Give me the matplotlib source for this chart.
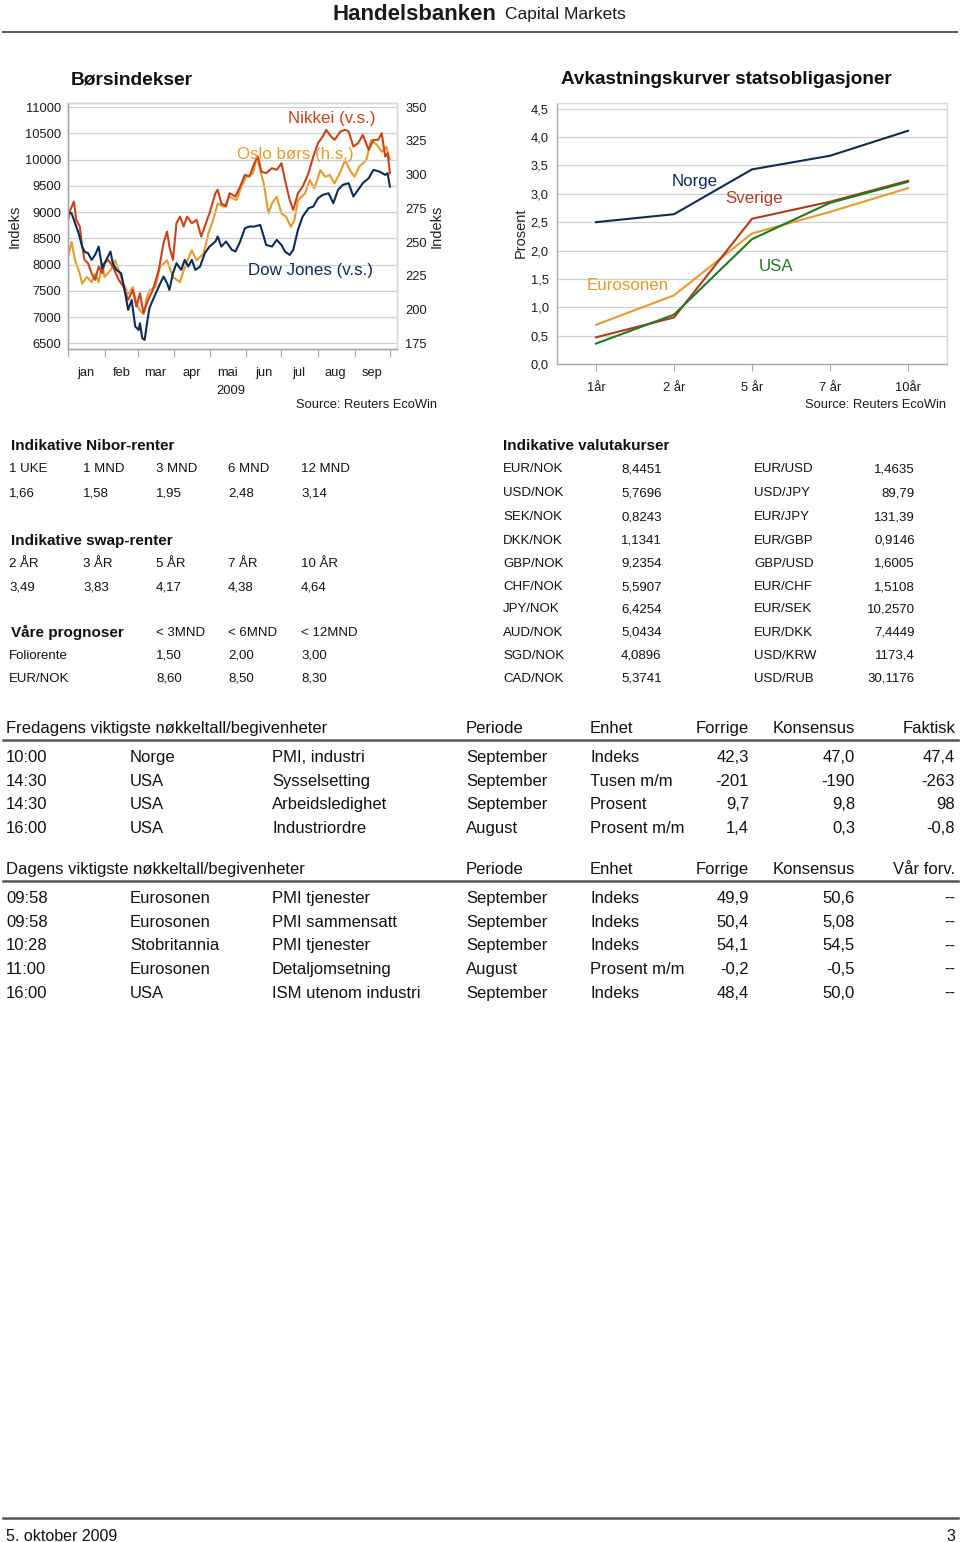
import matplotlib
matplotlib.use('Agg')
import matplotlib.pyplot as plt
from matplotlib.lines import Line2D
import pandas as pd

# ---- data: stock indices 2009 (day offset from 1 Jan, value) ----
dow_days = [0, 3, 6, 9, 12, 14, 17, 20, 23, 26, 29, 31, 36, 38, 41, 45, 48, 51, 54, 57,
            60, 61, 63, 65, 67, 69, 72, 77, 81, 84, 86, 89, 92, 96, 99, 102, 105, 108, 112, 116,
            120, 125, 127, 130, 134, 139, 142, 146, 150, 154, 158, 163, 166, 168, 173, 177, 181, 184, 188, 191,
            195, 199, 204, 208, 212, 216, 221, 225, 229, 233, 238, 242, 246, 250, 255, 259, 264, 269, 271, 273]
dow_vals = [8992, 8979, 8788, 8597, 8343, 8248, 8216, 8089, 8184, 8343,
            7930, 8025, 8248, 8025, 7898, 7835, 7517, 7136, 7326, 6818,
            6754, 6881, 6595, 6564, 6881, 7167, 7326, 7580, 7771, 7644,
            7517, 7835, 8025, 7898, 8089, 7962, 8089, 7898, 7962, 8216,
            8343, 8439, 8534, 8343, 8439, 8280, 8248, 8439, 8693, 8725,
            8725, 8756, 8534, 8375, 8343, 8470, 8375, 8248, 8184, 8280,
            8661, 8915, 9074, 9106, 9265, 9328, 9360, 9169, 9424, 9519,
            9551, 9297, 9424, 9551, 9646, 9805, 9773, 9710, 9742, 9487]

nikkei_days = [0, 2, 5, 7, 10, 12, 14, 17, 20, 23, 26, 29, 31, 34, 38, 43, 47, 51, 55, 58,
               61, 64, 68, 72, 77, 81, 84, 86, 89, 92, 95, 98, 101, 105, 109, 113, 118, 120, 125, 127,
               130, 134, 137, 142, 146, 150, 154, 158, 161, 164, 168, 173, 177, 181, 184, 188, 191, 195, 199, 204,
               208, 212, 216, 219, 223, 226, 231, 235, 238, 242, 246, 250, 255, 259, 263, 266, 269, 271, 273]
nikkei_vals = [8852, 9042, 9201, 8852, 8725, 8343, 8089, 8025, 7835, 7708,
               7962, 7835, 8025, 8089, 7962, 7708, 7580, 7326, 7517, 7199,
               7453, 7072, 7326, 7517, 7898, 8407, 8629, 8343, 8089, 8788,
               8915, 8725, 8915, 8788, 8852, 8534, 8852, 8979, 9360, 9424,
               9169, 9106, 9360, 9297, 9487, 9710, 9678, 9932, 10059, 9773,
               9742, 9837, 9805, 9932, 9614, 9233, 9042, 9360, 9487, 9742,
               10059, 10314, 10441, 10568, 10441, 10377, 10536, 10568, 10536, 10250,
               10314, 10472, 10186, 10377, 10377, 10504, 10059, 10123, 9742]

oslo_days = [0, 3, 6, 10, 12, 16, 20, 23, 26, 29, 31, 36, 40, 44, 47, 51, 55, 58, 61, 64,
             67, 69, 74, 78, 84, 89, 95, 99, 105, 109, 115, 119, 123, 127, 132, 137, 143, 147, 151, 157,
             160, 163, 166, 170, 173, 177, 181, 185, 189, 192, 195, 201, 205, 209, 214, 218, 222, 226, 231, 235,
             239, 243, 247, 253, 257, 262, 266, 270, 273]
oslo_vals = [238.9, 250.1, 236.5, 226.5, 219.1, 224.1, 220.3, 226.5, 220.3, 234.0,
             224.1, 229.0, 236.5, 226.5, 219.1, 211.7, 216.6, 204.2, 199.3, 196.8,
             209.2, 214.1, 216.6, 231.5, 236.5, 224.1, 220.3, 231.5, 243.9, 236.5,
             241.4, 256.3, 266.2, 278.6, 276.1, 283.6, 281.1, 291.0, 298.4, 300.9,
             313.3, 303.4, 293.5, 271.2, 278.6, 283.6, 271.2, 268.7, 261.3, 266.2,
             281.1, 286.0, 296.0, 289.8, 303.4, 298.4, 299.7, 293.5, 302.2, 310.8,
             303.4, 298.4, 305.9, 310.8, 325.7, 322.0, 317.0, 320.7, 310.8]

months = ['jan', 'feb', 'mar', 'apr', 'mai', 'jun', 'jul', 'aug', 'sep']
left_ticks = [6500, 7000, 7500, 8000, 8500, 9000, 9500, 10000, 10500, 11000]
right_ticks = [175, 200, 225, 250, 275, 300, 325, 350]

# ---- data: yield curves ----
maturities = ['1år', '2 år', '5 år', '7 år', '10år']
yield_norge = [2.50, 2.64, 3.43, 3.67, 4.11]
yield_sverige = [0.47, 0.82, 2.56, 2.86, 3.23]
yield_euro = [0.69, 1.21, 2.30, 2.68, 3.10]
yield_usa = [0.36, 0.87, 2.20, 2.84, 3.21]
yield_ticks = [0.0, 0.5, 1.0, 1.5, 2.0, 2.5, 3.0, 3.5, 4.0, 4.5]

# ---- data: tables ----
nibor_head = ['1 UKE', '1 MND', '3 MND', '6 MND', '12 MND']
nibor_vals = ['1,66', '1,58', '1,95', '2,48', '3,14']
swap_head = ['2 ÅR', '3 ÅR', '5 ÅR', '7 ÅR', '10 ÅR']
swap_vals = ['3,49', '3,83', '4,17', '4,38', '4,64']
prog_head = ['< 3MND', '< 6MND', '< 12MND']
prog_rows = [['Foliorente', '1,50', '2,00', '3,00'],
             ['EUR/NOK', '8,60', '8,50', '8,30']]

fx_left = [('EUR/NOK', '8,4451'), ('USD/NOK', '5,7696'), ('SEK/NOK', '0,8243'),
           ('DKK/NOK', '1,1341'), ('GBP/NOK', '9,2354'), ('CHF/NOK', '5,5907'),
           ('JPY/NOK', '6,4254'), ('AUD/NOK', '5,0434'), ('SGD/NOK', '4,0896'),
           ('CAD/NOK', '5,3741')]
fx_right = [('EUR/USD', '1,4635'), ('USD/JPY', '89,79'), ('EUR/JPY', '131,39'),
            ('EUR/GBP', '0,9146'), ('GBP/USD', '1,6005'), ('EUR/CHF', '1,5108'),
            ('EUR/SEK', '10,2570'), ('EUR/DKK', '7,4449'), ('USD/KRW', '1173,4'),
            ('USD/RUB', '30,1176')]

fri_title = 'Fredagens viktigste nøkkeltall/begivenheter'
fri_cols = ['Periode', 'Enhet', 'Forrige', 'Konsensus', 'Faktisk']
fri_rows = [['10:00', 'Norge', 'PMI, industri', 'September', 'Indeks', '42,3', '47,0', '47,4'],
            ['14:30', 'USA', 'Sysselsetting', 'September', 'Tusen m/m', '-201', '-190', '-263'],
            ['14:30', 'USA', 'Arbeidsledighet', 'September', 'Prosent', '9,7', '9,8', '98'],
            ['16:00', 'USA', 'Industriordre', 'August', 'Prosent m/m', '1,4', '0,3', '-0,8']]
day_title = 'Dagens viktigste nøkkeltall/begivenheter'
day_cols = ['Periode', 'Enhet', 'Forrige', 'Konsensus', 'Vår forv.']
day_rows = [['09:58', 'Eurosonen', 'PMI tjenester', 'September', 'Indeks', '49,9', '50,6', '--'],
            ['09:58', 'Eurosonen', 'PMI sammensatt', 'September', 'Indeks', '50,4', '5,08', '--'],
            ['10:28', 'Stobritannia', 'PMI tjenester', 'September', 'Indeks', '54,1', '54,5', '--'],
            ['11:00', 'Eurosonen', 'Detaljomsetning', 'August', 'Prosent m/m', '-0,2', '-0,5', '--'],
            ['16:00', 'USA', 'ISM utenom industri', 'September', 'Indeks', '48,4', '50,0', '--']]

# ---- style ----
NAVY = '#0D2B57'
RED = '#C8431A'
ORANGE = '#E59A2C'
SV_RED = '#B33A1C'
GREEN = '#1E7A1E'
GRID = '#CFCFCF'
AXIS = '#A8A8A8'
FONT = ['Liberation Sans', 'DejaVu Sans']
TICK = 9.3
LABEL = 12.2

W, H = 960, 1542
fig = plt.figure(figsize=(W / 100, H / 100), dpi=100)
fig.patch.set_facecolor('white')


def txt(x, y, s, size, ha='left', va='center_baseline', **kw):
    fig.text(x / W, 1 - y / H, s, fontsize=size, ha=ha, va=va, family=FONT, **kw)


def hline(x0, x1, y, lw, color):
    fig.add_artist(Line2D([x0 / W, x1 / W], [1 - y / H, 1 - y / H],
                          transform=fig.transFigure, lw=lw, color=color))


def add_axes(l, t, r, b):
    return fig.add_axes([l / W, 1 - b / H, (r - l) / W, (b - t) / H])


def style_frame(ax):
    for side in ['left', 'bottom']:
        ax.spines[side].set_color(AXIS)
    for side in ['top', 'right']:
        ax.spines[side].set_color('#D8D8D8')
    for sp in ax.spines.values():
        sp.set_linewidth(1.0)


def style_ticklabels(ax):
    for lab in ax.get_xticklabels(which='both') + ax.get_yticklabels():
        lab.set_family(FONT)
        lab.set_fontsize(TICK)
        lab.set_color('#1a1a1a')


# header
txt(333, 12, 'Handelsbanken', 16, weight='bold', color='#1a1a1a')
txt(505, 13, 'Capital Markets', 12.5, color='#1a1a1a')
hline(3, 957, 32, 1.4, '#555555')

# ---- left chart: Børsindekser ----
start = pd.Timestamp('2009-01-01')
ax = add_axes(68, 103, 397, 349)
ax.plot(start + pd.to_timedelta(nikkei_days, unit='D'), nikkei_vals, color=RED, lw=1.5)
ax.plot(start + pd.to_timedelta(dow_days, unit='D'), dow_vals, color=NAVY, lw=1.5)
ax.set_ylim(6390, 11080)
ax.set_xlim(start, pd.Timestamp('2009-10-07'))
ax.set_yticks(left_ticks)
ax.grid(axis='y', color=GRID, lw=0.9)
ax.set_axisbelow(True)
month_starts = pd.date_range('2009-01-01', '2009-10-01', freq='MS')
ax.set_xticks(month_starts)
ax.set_xticklabels([''] * len(month_starts))
ax.set_xticks(month_starts[:-1] + pd.Timedelta(days=15), minor=True)
ax.set_xticklabels(months, minor=True)
ax.tick_params(axis='x', which='major', length=6, color=AXIS, direction='out')
ax.tick_params(axis='x', which='minor', length=0, pad=13)
ax.tick_params(axis='y', length=0, pad=5)
style_frame(ax)

ax2 = ax.twinx()
ax2.plot(start + pd.to_timedelta(oslo_days, unit='D'), oslo_vals, color=ORANGE, lw=1.5)
ax2.set_ylim(175 + (6390 - 6500) * 175 / 4500, 350 + (11080 - 11000) * 175 / 4500)
ax2.set_yticks(right_ticks)
ax2.tick_params(axis='y', length=0, pad=6)
style_frame(ax2)
ax.set_zorder(2)
ax.patch.set_visible(False)
style_ticklabels(ax)
style_ticklabels(ax2)

txt(15, 226, 'Indeks', 10.5, ha='center', va='center', rotation=90, color='#222222')
txt(437, 226, 'Indeks', 10.5, ha='center', va='center', rotation=90, color='#222222')
txt(231, 389, '2009', TICK, ha='center', color='#1a1a1a')
txt(437, 404, 'Source: Reuters EcoWin', TICK, ha='right', color='#1a1a1a')
txt(71, 78, 'Børsindekser', 13.8, weight='bold', color='#111111')
txt(288, 117, 'Nikkei (v.s.)', LABEL, color=RED)
txt(237, 153, 'Oslo børs (h.s.)', LABEL, color=ORANGE)
txt(248, 269, 'Dow Jones (v.s.)', LABEL, color=NAVY)

# ---- right chart: yield curves ----
ay = add_axes(557, 103, 947, 364)
xs = range(len(maturities))
ay.plot(xs, yield_norge, color=NAVY, lw=1.5)
ay.plot(xs, yield_euro, color=ORANGE, lw=1.5)
ay.plot(xs, yield_sverige, color=SV_RED, lw=1.5)
ay.plot(xs, yield_usa, color=GREEN, lw=1.5)
ay.set_xlim(-0.5, 4.5)
ay.set_ylim(0, 4.6)
ay.set_yticks(yield_ticks)
ay.set_yticklabels([f'{v:.1f}'.replace('.', ',') for v in yield_ticks])
ay.set_xticks(list(xs))
ay.set_xticklabels(maturities)
ay.grid(axis='y', color=GRID, lw=0.9)
ay.set_axisbelow(True)
ay.tick_params(axis='x', length=5, color=AXIS, pad=8)
ay.tick_params(axis='y', length=0, pad=6)
style_frame(ay)
style_ticklabels(ay)

txt(561, 78, 'Avkastningskurver statsobligasjoner', 13.6, weight='bold', color='#111111')
txt(521, 233, 'Prosent', 10.5, ha='center', va='center', rotation=90, color='#222222')
txt(946, 404, 'Source: Reuters EcoWin', TICK, ha='right', color='#1a1a1a')
txt(672, 180, 'Norge', LABEL, color=NAVY)
txt(725, 197, 'Sverige', LABEL, color=SV_RED)
txt(759, 265, 'USA', LABEL, color=GREEN)
txt(587, 284, 'Eurosonen', LABEL, color=ORANGE)

# ---- middle tables ----
TS = 9.5
HS = 11
col_x = [9, 83, 156, 228, 301]
txt(11, 444, 'Indikative Nibor-renter', HS, weight='bold', color='#111111')
for x, h, v in zip(col_x, nibor_head, nibor_vals):
    txt(x, 468, h, TS, color='#111111')
    txt(x, 492, v, TS, color='#111111')
txt(11, 539, 'Indikative swap-renter', HS, weight='bold', color='#111111')
for x, h, v in zip(col_x, swap_head, swap_vals):
    txt(x, 562, h, TS, color='#111111')
    txt(x, 586, v, TS, color='#111111')
txt(11, 631, 'Våre prognoser', HS, weight='bold', color='#111111')
for x, h in zip(col_x[2:], prog_head):
    txt(x, 632, h, TS, color='#111111')
for y, row in zip([654, 677], prog_rows):
    txt(col_x[0], y, row[0], TS, color='#111111')
    for x, v in zip(col_x[2:], row[1:]):
        txt(x, y, v, TS, color='#111111')

txt(503, 444, 'Indikative valutakurser', HS, weight='bold', color='#111111')
fx_y = [468, 492, 516, 539, 562, 586, 608, 631, 654, 677]
for y, (n1, v1), (n2, v2) in zip(fx_y, fx_left, fx_right):
    txt(503, y, n1, TS, color='#111111')
    txt(621, y, v1, TS, color='#111111')
    txt(754, y, n2, TS, color='#111111')
    txt(915, y, v2, TS, ha='right', color='#111111')

# ---- bottom tables ----
BS = 12
left_cols = [6, 130, 272, 466, 590]
right_cols = [749, 855, 955]


def event_table(y_head, title, cols, rows):
    txt(6, y_head, title, BS, color='#111111')
    for x, c in zip(left_cols[3:], cols[:2]):
        txt(x, y_head, c, BS, color='#111111')
    for x, c in zip(right_cols, cols[2:]):
        txt(x, y_head, c, BS, ha='right', color='#111111')
    hline(3, 958, y_head + 13, 1.8, '#555555')
    for i, row in enumerate(rows):
        y = y_head + 29 + i * 23.7
        for x, v in zip(left_cols, row[:5]):
            txt(x, y, v, BS, color='#111111')
        for x, v in zip(right_cols, row[5:]):
            txt(x, y, v, BS, ha='right', color='#111111')


event_table(727, fri_title, fri_cols, fri_rows)
event_table(868, day_title, day_cols, day_rows)

# footer
hline(3, 958, 1518, 1.8, '#555555')
txt(6, 1535, '5. oktober 2009', 11.5, color='#111111')
txt(955, 1535, '3', 11.5, ha='right', color='#111111')

fig.savefig('out.png', dpi=100, facecolor='white')
